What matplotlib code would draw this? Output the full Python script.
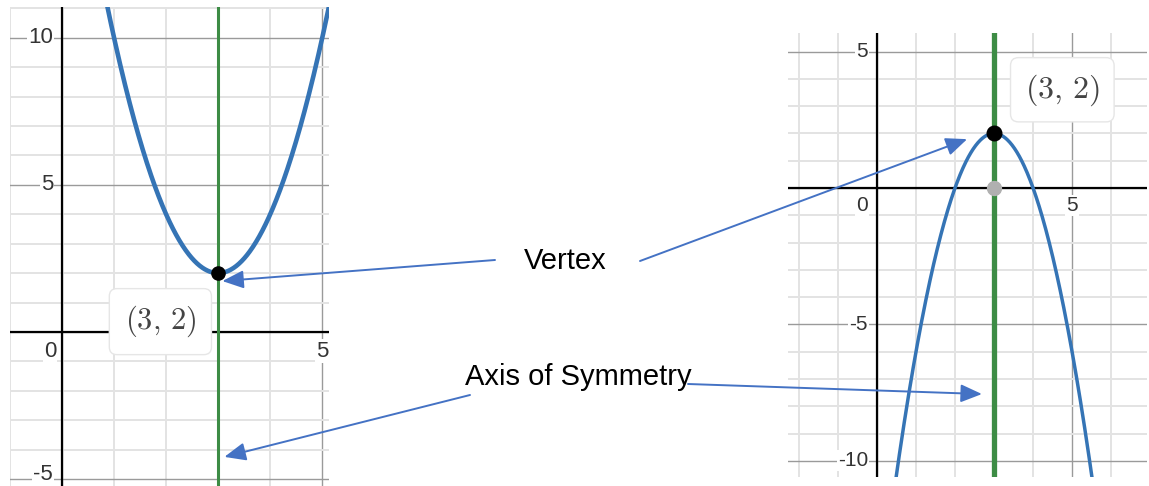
import numpy as np
import matplotlib.pyplot as plt

plt.rcParams['font.family'] = ['Liberation Sans', 'DejaVu Sans']
plt.rcParams['mathtext.fontset'] = 'cm'

# parabolas y = a*(x - h)^2 + k
vertex = (3, 2)
a_left = 2
a_right = -2

# panel extents (data units)
left_xlim = (-1.0, 5.13)
left_ylim = (-5.24, 11.05)
right_xlim = (-2.28, 6.92)
right_ylim = (-10.59, 5.68)

left_yticks = [10, 5, -5]
left_xticks = [0, 5]
right_yticks = [5, -5, -10]
right_xticks = [0, 5]

BLUE = '#3574b5'
GREEN = '#3d8c45'
ARROW = '#4472c4'

W, H = 1149, 486
fig = plt.figure(figsize=(W / 100, H / 100), dpi=100)


def panel(rect_px, xlim, ylim):
    x0, y0, x1, y1 = rect_px
    ax = fig.add_axes([x0 / W, (H - y1) / H, (x1 - x0) / W, (y1 - y0) / H])
    ax.set_xlim(*xlim)
    ax.set_ylim(*ylim)
    for s in ax.spines.values():
        s.set_visible(False)
    ax.set_xticks([])
    ax.set_yticks([])
    for gx in range(int(np.floor(xlim[0])), int(np.ceil(xlim[1])) + 1):
        major = gx % 5 == 0
        ax.axvline(gx, color='#9a9a9a' if major else '#e3e3e3',
                   lw=1.0 if major else 1.4, zorder=0)
    for gy in range(int(np.floor(ylim[0])), int(np.ceil(ylim[1])) + 1):
        major = gy % 5 == 0
        ax.axhline(gy, color='#9a9a9a' if major else '#e3e3e3',
                   lw=1.0 if major else 1.4, zorder=0)
    ax.axhline(0, color='black', lw=1.6, zorder=1)
    ax.axvline(0, color='black', lw=1.6, zorder=1)
    return ax


def tick_text(ax, x, y, s, size, ha='center'):
    ax.text(x, y, s, ha=ha, va='center', fontsize=size, color='#333333', zorder=1.5,
            bbox=dict(boxstyle='square,pad=0.05', fc='white', ec='none'))


# ---- left panel: opens upward
axl = panel((10, 7, 329, 486), left_xlim, left_ylim)
xs = np.linspace(*left_xlim, 600)
axl.plot(xs, a_left * (xs - vertex[0]) ** 2 + vertex[1], color=BLUE, lw=3.3, zorder=3)
axl.axvline(vertex[0], color=GREEN, lw=2.2, zorder=2)
axl.plot(*vertex, 'o', color='black', ms=9.5, zorder=4)
for t in left_yticks:
    tick_text(axl, -0.17, t if t != -5 else -4.85, str(t), 16, ha='right')
tick_text(axl, -0.23, -0.65, '0', 16)
tick_text(axl, 5, -0.65, '5', 16)
axl.text(1.89, 0.35, r'$(3,\,2)$', ha='center', va='center', fontsize=22, color='#444444',
         zorder=5, bbox=dict(boxstyle='round,pad=0.5,rounding_size=0.25',
                             fc='white', ec='#e6e6e6', lw=1))

# ---- right panel: opens downward
axr = panel((788, 33, 1147, 477), right_xlim, right_ylim)
xs = np.linspace(*right_xlim, 600)
axr.plot(xs, a_right * (xs - vertex[0]) ** 2 + vertex[1], color=BLUE, lw=2.5, zorder=3)
axr.axvline(vertex[0], color=GREEN, lw=3.8, zorder=2)
axr.plot(vertex[0], 0, 'o', color='#b0b0b0', ms=10, zorder=4)
axr.plot(*vertex, 'o', color='black', ms=10.5, zorder=4)
for t in right_yticks:
    tick_text(axr, -0.23, t, str(t), 15, ha='right')
tick_text(axr, -0.38, -0.63, '0', 15)
tick_text(axr, 5, -0.63, '5', 15)
axr.text(4.75, 3.6, r'$(3,\,2)$', ha='center', va='center', fontsize=23, color='#444444',
         zorder=5, bbox=dict(boxstyle='round,pad=0.45,rounding_size=0.25',
                             fc='white', ec='#e6e6e6', lw=1))

# ---- labels and arrows
fig.text(565 / W, 1 - 261 / H, 'Vertex', ha='center', va='center', fontsize=21)
fig.text(578 / W, 1 - 377 / H, 'Axis of Symmetry', ha='center', va='center', fontsize=21)

arrow = dict(arrowstyle='-|>,head_length=1.3,head_width=0.55', color=ARROW, lw=1.4,
             shrinkA=0, shrinkB=0)
axl.annotate('', xy=(3.08, 1.73), xycoords='data', xytext=(495, H - 260),
             textcoords='figure pixels', arrowprops=arrow, annotation_clip=False)
axl.annotate('', xy=(3.12, -4.25), xycoords='data', xytext=(470, H - 395),
             textcoords='figure pixels', arrowprops=arrow, annotation_clip=False)
axr.annotate('', xy=(2.31, 1.79), xycoords='data', xytext=(640, H - 261),
             textcoords='figure pixels', arrowprops=arrow, annotation_clip=False)
axr.annotate('', xy=(2.69, -7.55), xycoords='data', xytext=(688, H - 384),
             textcoords='figure pixels', arrowprops=arrow, annotation_clip=False)

fig.savefig('out.png', dpi=100)
